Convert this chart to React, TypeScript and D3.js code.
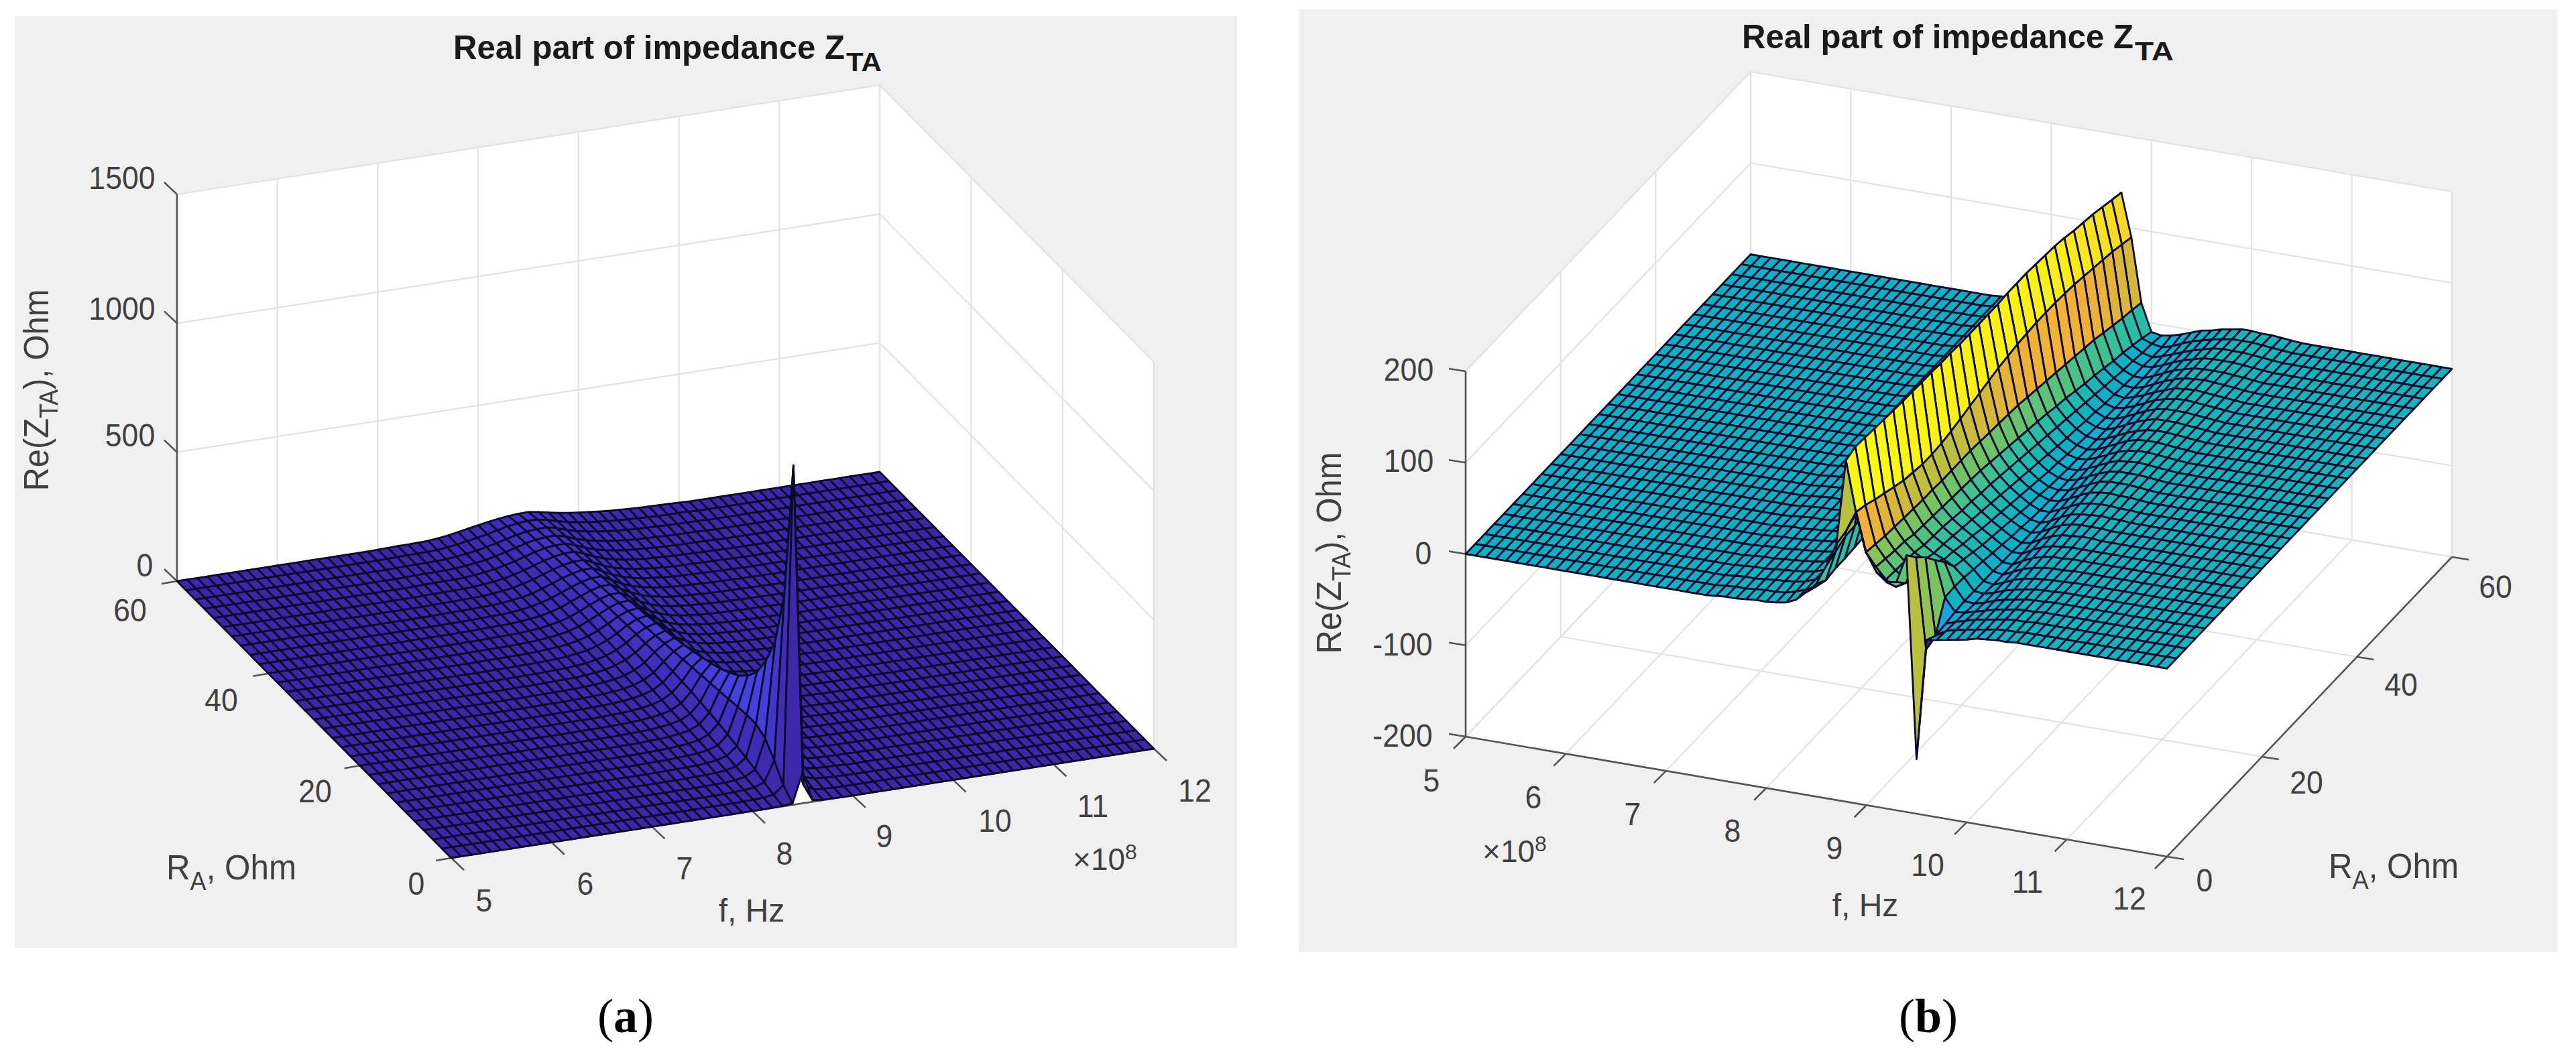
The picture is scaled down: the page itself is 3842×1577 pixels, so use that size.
import React from "react";
import * as d3 from "d3";

// ---------- axes / ticks ----------
const fTicks = [5, 6, 7, 8, 9, 10, 11, 12];
const raTicks = [0, 20, 40, 60];
const zTicksA = [0, 500, 1000, 1500];
const zTicksB = [-200, -100, 0, 100, 200];
const fGrid = d3.range(0, 71).map((i) => 5 + i / 10);
const raGrid = d3.range(0, 31).map((i) => i * 2);
const TITLE = "Real part of impedance Z";

// Panel (a): Re(Z) for RA = 0,2,...,60 (rows), f = 7.0 ... 10.0 e8 (columns); flat 0 outside
const zAStartF = 7.0;
const zA = [
  [0,0,0,0,0,0,0,0,0,0,0,0,1,2,5,120,6,2,1,0,0,0,0,0,0,0,0,0,0,0,0],
  [0,0,0,0,0,0,0,0,0,0,1,2,4,10,40,1275,30,6,2,1,0,0,0,0,0,0,0,0,0,0,0],
  [0,0,0,0,0,0,0,0,0,1,2,4,8,22,100,735,90,18,7,3,2,1,0,0,0,0,0,0,0,0,0],
  [0,0,0,0,0,0,0,0,1,2,3,6,13,36,150,520,130,30,11,5,3,2,1,0,0,0,0,0,0,0,0],
  [0,0,0,0,0,0,0,1,2,3,5,9,18,46,170,410,140,40,15,8,4,2,1,1,0,0,0,0,0,0,0],
  [0,0,0,0,0,0,1,2,3,4,7,12,23,55,170,330,140,48,20,10,6,3,2,1,1,0,0,0,0,0,0],
  [0,0,0,0,0,1,2,2,4,6,9,15,28,64,165,280,135,52,24,12,7,4,3,2,1,1,0,0,0,0,0],
  [0,0,0,0,0,1,2,3,5,7,11,18,34,72,160,245,130,56,27,14,8,5,3,2,1,1,0,0,0,0,0],
  [0,0,0,0,1,1,2,4,5,8,13,21,38,78,155,221,125,58,29,16,10,6,4,3,2,1,1,0,0,0,0],
  [0,0,0,1,1,2,3,4,6,9,15,24,43,83,150,200,120,60,31,18,11,7,5,3,2,1,1,0,0,0,0],
  [0,0,1,1,1,2,3,5,7,11,17,27,48,88,145,185,115,61,33,19,12,8,5,4,3,2,1,1,0,0,0],
  [0,0,1,1,1,2,4,5,8,12,19,31,53,91,140,172,110,62,34,20,13,9,6,4,3,2,1,1,0,0,0],
  [0,1,1,1,2,3,4,6,9,14,21,34,57,94,135,160,107,62,35,21,14,9,6,5,3,2,2,1,1,0,0],
  [0,1,1,1,2,3,4,7,10,15,23,37,60,96,130,150,104,62,36,22,15,10,7,5,4,3,2,1,1,0,0],
  [0,1,1,2,2,3,5,7,11,16,25,40,63,97,125,141,98,61,37,23,15,11,7,6,4,3,2,2,1,0,0],
  [1,1,1,2,3,4,5,8,12,18,28,43,66,96,120,133,92,60,38,24,16,11,8,6,4,3,2,2,1,1,0],
  [1,1,2,2,3,4,6,9,13,20,30,46,68,95,116,126,89,59,38,25,17,12,9,6,5,3,3,2,1,1,0],
  [1,1,2,2,3,4,6,9,14,21,32,48,69,94,112,119,86,58,38,25,17,12,9,7,5,4,3,2,1,1,0],
  [1,1,2,2,3,5,7,10,15,23,34,50,70,92,108,113,83,57,38,26,18,13,9,7,5,4,3,2,2,1,1],
  [1,1,2,2,3,5,7,11,16,24,36,52,71,90,104,107,80,56,38,26,18,13,10,7,5,4,3,2,2,1,1],
  [1,1,2,3,3,5,8,11,17,25,37,53,71,88,100,101,78,55,38,26,18,14,10,8,6,4,3,2,2,1,1],
  [1,1,2,3,4,5,8,12,17,26,38,54,70,85,96,97,75,54,38,27,19,14,10,8,6,4,3,3,2,1,1],
  [1,1,2,3,4,5,8,12,18,27,39,54,69,83,92,93,73,53,37,27,19,14,10,8,6,5,3,3,2,1,1],
  [1,2,2,3,4,5,8,13,18,27,39,54,68,80,88,89,71,52,37,27,19,15,11,8,6,5,4,3,2,1,1],
  [1,2,2,3,4,5,9,13,19,28,39,53,66,77,84,85,69,51,37,27,20,15,11,8,6,5,4,3,2,2,1],
  [1,2,2,3,4,5,9,13,19,28,39,52,64,74,80,81,67,50,37,27,20,15,11,9,7,5,4,3,2,2,1],
  [1,2,3,3,4,5,9,14,20,28,38,50,62,71,76,76,65,48,36,27,20,15,12,9,7,5,4,3,3,2,1],
  [1,2,3,3,4,5,9,14,20,28,38,49,60,68,72,72,62,47,36,27,21,16,12,9,7,6,4,3,3,2,1],
  [1,2,3,3,4,5,9,14,20,28,37,47,57,64,67,68,59,46,35,28,22,17,13,10,8,6,5,4,3,2,2],
  [1,2,3,3,4,5,9,14,21,28,36,45,54,60,63,63,55,44,35,28,23,18,14,11,9,7,5,4,3,3,2],
  [1,2,3,3,4,5,9,14,21,28,35,42,48,53,56,56,50,42,35,29,24,20,16,12,10,8,6,5,4,3,2],
];

// Panel (b): rows RA = 0,2,...,60; columns f = 7.5 ... 10.5 e8; 0 below, flankRightB above
const zBStartF = 7.5;
const flankRightB = [6,6,6,6,6,6,6,6,6,6,6,6,6,6,6];
const zB = [
  [1,2,2,3,4,4,5,7,12,22,33,55,80,97,118,76,57,48,50,81,-140,-8,-6,-4,-2,0,3,4,5,5,6],
  [1,2,2,3,4,4,5,8,12,17,26,60,161,106,64,50,38,32,38,68,-31,-14,-7,-4,-2,0,2,4,5,5,6],
  [1,2,2,3,4,5,6,8,12,18,28,65,165,103,62,48,37,31,35,57,-27,-12,-8,-5,-2,0,2,4,5,5,6],
  [1,2,2,3,4,5,6,8,12,18,28,66,164,98,60,46,36,30,32,43,4,-10,-9,-6,-3,0,2,4,5,5,6],
  [1,2,2,3,4,5,6,8,12,18,29,67,163,94,59,45,35,29,28,30,5,-9,-10,-7,-3,0,2,4,5,5,6],
  [1,2,2,3,4,5,6,8,12,19,30,67,162,90,58,42,32,25,20,14,4,-9,-10,-7,-3,0,2,4,5,5,6],
  [1,2,2,3,4,5,6,8,12,19,31,68,161,86,57,41,31,24,18,11,2,-9,-11,-7,-2,1,3,4,5,5,6],
  [1,2,2,3,4,5,6,8,13,19,31,68,160,84,56,40,30,22,15,8,0,-9,-11,-6,-1,2,4,5,5,6,6],
  [1,2,3,3,4,5,7,9,13,20,32,68,160,82,56,39,28,20,13,5,-2,-10,-11,-5,0,3,5,5,6,6,6],
  [1,2,3,3,4,5,7,9,13,20,32,68,159,82,55,38,26,18,10,3,-4,-10,-10,-4,1,4,5,6,6,6,6],
  [1,2,3,3,4,5,7,9,13,20,32,68,159,83,55,37,25,16,8,1,-6,-11,-9,-3,2,5,6,7,7,6,6],
  [1,2,3,3,4,5,7,9,14,21,34,70,158,85,55,36,23,14,6,-1,-7,-11,-8,-2,3,6,7,7,7,6,6],
  [1,2,3,3,4,5,7,10,14,21,35,71,158,88,55,35,22,12,4,-3,-9,-11,-7,-1,4,6,7,8,7,7,6],
  [1,2,3,4,4,6,7,10,14,22,36,72,157,91,54,33,20,10,2,-5,-10,-10,-5,0,5,7,8,8,7,7,6],
  [1,2,3,4,5,6,8,10,15,22,37,74,157,94,53,31,18,8,0,-6,-10,-9,-4,1,6,8,9,8,8,7,6],
  [1,2,3,4,5,6,8,10,15,23,38,75,157,97,52,29,16,6,-2,-8,-10,-8,-3,2,7,9,9,9,8,7,6],
  [1,2,3,4,5,6,8,10,15,23,39,76,157,100,51,27,14,4,-4,-9,-10,-7,-2,3,7,9,9,9,8,7,6],
  [1,2,3,4,5,6,8,11,15,24,40,77,157,102,50,25,12,2,-5,-10,-10,-6,-1,4,8,9,10,9,8,7,6],
  [1,2,3,4,5,6,8,11,16,24,41,78,158,104,48,23,10,0,-7,-10,-9,-5,0,5,8,10,10,9,8,7,6],
  [1,2,3,4,5,6,8,11,16,25,41,79,158,105,46,21,8,-2,-8,-11,-9,-4,1,6,9,10,10,9,8,7,6],
  [1,2,3,4,5,6,8,11,16,25,42,80,158,106,44,18,6,-3,-9,-11,-8,-3,2,6,9,10,10,9,8,7,6],
  [1,2,3,4,5,7,9,12,17,26,43,81,157,106,42,16,4,-5,-10,-11,-7,-2,3,7,10,10,10,9,8,7,6],
  [1,2,3,4,5,7,9,12,17,26,44,81,156,106,40,13,2,-6,-11,-10,-6,-1,4,8,10,10,10,9,8,7,6],
  [1,2,3,4,5,7,9,12,18,27,45,82,155,105,38,10,0,-8,-11,-9,-5,0,5,8,10,11,10,9,8,7,6],
  [1,2,3,4,6,7,9,12,18,27,46,82,153,104,36,8,-2,-9,-11,-8,-4,1,5,9,10,11,10,9,8,7,6],
  [1,2,3,4,6,7,9,13,18,28,46,83,150,102,34,5,-4,-10,-11,-8,-3,2,6,9,10,11,10,9,8,7,6],
  [1,2,3,4,6,8,10,13,19,28,47,83,148,100,31,2,-6,-11,-11,-7,-2,3,6,9,10,10,10,9,8,7,6],
  [1,2,3,4,6,8,10,13,19,29,48,84,146,98,28,0,-7,-11,-10,-6,-1,3,6,9,10,10,10,9,8,7,6],
  [1,2,3,4,6,8,10,14,19,29,48,84,143,96,25,-3,-9,-12,-9,-5,-1,3,6,9,10,10,10,9,8,7,6],
  [1,2,3,4,6,8,10,14,20,30,49,85,140,93,23,-6,-10,-12,-9,-4,0,3,6,8,10,10,10,9,8,7,6],
  [1,2,3,4,6,8,10,14,20,30,50,85,137,90,20,-10,-12,-10,-7,-3,1,3,6,8,10,10,9,9,8,7,6],
];

// ---------- colour ----------
const parula = d3
  .scaleLinear<string>()
  .domain([0, 0.1, 0.2, 0.3, 0.4, 0.46, 0.55, 0.65, 0.72, 0.8, 0.88, 1])
  .range(["#3E26A8","#4748F0","#3E66FA","#2594EE","#10AED6","#0DB0C4","#2EBFA0","#78C45E","#B4C23E","#F0B038","#F8C82E","#F9FB10"])
  .clamp(true);

// ---------- panel definitions ----------
type V = [number, number];
type Panel = {
  origin: V; fv: V; rv: V;
  zDomain: [number, number]; zPx: number;
  zTicks: number[];
  z: (r: number, c: number) => number;
  clim: [number, number];
  wallRA: number; wallF: number; floorZ: number; zAxisF: number; zAxisRA: number; raAxisF: number;
  zTick: V; fTick: V; raTick: V;
};

const readA = (r: number, c: number) => {
  const i = Math.round((fGrid[c] - zAStartF) * 10);
  return zA[r][i] ?? 0;
};
const readB = (r: number, c: number) => {
  const i = Math.round((fGrid[c] - zBStartF) * 10);
  if (i < 0) return 0;
  if (i > 30) return flankRightB[i - 31] ?? 5;
  return zB[r][i];
};

const panelA: Panel = {
  origin: [673, 1280], fv: [1048, -163], rv: [-409, -413],
  zDomain: [0, 1500], zPx: 577, zTicks: zTicksA, z: readA, clim: [0, 2200],
  wallRA: 60, wallF: 12, floorZ: 0, zAxisF: 5, zAxisRA: 60, raAxisF: 5,
  zTick: [-19, -18], fTick: [19, 18], raTick: [-23, 4],
};
const panelB: Panel = {
  origin: [2186, 1099], fv: [1046, 179], rv: [425, -447],
  zDomain: [-200, 200], zPx: 545, zTicks: zTicksB, z: readB, clim: [-140, 165],
  wallRA: 60, wallF: 5, floorZ: -200, zAxisF: 5, zAxisRA: 0, raAxisF: 12,
  zTick: [-25, -4], fTick: [-18, 18], raTick: [25, 4],
};

function makeProjector(p: Panel) {
  const fS = d3.scaleLinear().domain([5, 12]).range([0, 1]);
  const rS = d3.scaleLinear().domain([0, 60]).range([0, 1]);
  const zS = d3.scaleLinear().domain(p.zDomain).range([0, -p.zPx]);
  return (f: number, ra: number, z: number): V => [
    p.origin[0] + p.fv[0] * fS(f) + p.rv[0] * rS(ra),
    p.origin[1] + p.fv[1] * fS(f) + p.rv[1] * rS(ra) + zS(z),
  ];
}

const lineGen = d3.line<V>();
const closed = (pts: V[]) => (lineGen(pts) as string) + "Z";

const FONT = "'Liberation Sans', Arial, sans-serif";
const TEXT = "#404040";

function Lbl({ x, y, children, size = 48, sx = 0.93, fill = TEXT, rotate = 0 }: any) {
  return (
    <text
      transform={`translate(${x},${y}) rotate(${rotate}) scale(${sx},1)`}
      textAnchor="middle"
      dominantBaseline="central"
      fontFamily={FONT}
      fontSize={size}
      fill={fill}
    >
      {children}
    </text>
  );
}

function Surface3D({ p }: { p: Panel }) {
  const P = makeProjector(p);
  const [zMin, zMax] = p.zDomain;
  const fz = p.floorZ;
  const color = d3.scaleLinear().domain(p.clim).range([0, 1]);

  const walls: V[][] = [
    [P(5, p.wallRA, zMin), P(12, p.wallRA, zMin), P(12, p.wallRA, zMax), P(5, p.wallRA, zMax)],
    [P(p.wallF, 0, zMin), P(p.wallF, 60, zMin), P(p.wallF, 60, zMax), P(p.wallF, 0, zMax)],
    [P(5, 0, fz), P(12, 0, fz), P(12, 60, fz), P(5, 60, fz)],
  ];

  const grid: V[][] = [];
  fTicks.forEach((f) => {
    grid.push([P(f, 0, fz), P(f, 60, fz)]);
    grid.push([P(f, p.wallRA, zMin), P(f, p.wallRA, zMax)]);
  });
  raTicks.forEach((r) => {
    grid.push([P(5, r, fz), P(12, r, fz)]);
    grid.push([P(p.wallF, r, zMin), P(p.wallF, r, zMax)]);
  });
  p.zTicks.forEach((z) => {
    grid.push([P(5, p.wallRA, z), P(12, p.wallRA, z)]);
    grid.push([P(p.wallF, 0, z), P(p.wallF, 60, z)]);
  });

  const cells: { d: string; fill: string; depth: number }[] = [];
  for (let r = 0; r < raGrid.length - 1; r++) {
    for (let c = 0; c < fGrid.length - 1; c++) {
      const corners: V[] = [
        P(fGrid[c], raGrid[r], p.z(r, c)),
        P(fGrid[c + 1], raGrid[r], p.z(r, c + 1)),
        P(fGrid[c + 1], raGrid[r + 1], p.z(r + 1, c + 1)),
        P(fGrid[c], raGrid[r + 1], p.z(r + 1, c)),
      ];
      const base = P(fGrid[c] + 0.05, raGrid[r] + 1, 0);
      cells.push({ d: closed(corners), fill: parula(color(p.z(r, c))), depth: base[1] });
    }
  }
  cells.sort((a, b) => a.depth - b.depth);

  const axisLines: V[][] = [
    [P(p.zAxisF, p.zAxisRA, zMin), P(p.zAxisF, p.zAxisRA, zMax)],
    [P(5, 0, fz), P(12, 0, fz)],
    [P(p.raAxisF, 0, fz), P(p.raAxisF, 60, fz)],
  ];
  const add = (a: V, b: V): V => [a[0] + b[0], a[1] + b[1]];
  p.zTicks.forEach((z) => {
    const a = P(p.zAxisF, p.zAxisRA, z);
    axisLines.push([a, add(a, p.zTick)]);
  });
  fTicks.forEach((f) => {
    const a = P(f, 0, fz);
    axisLines.push([a, add(a, p.fTick)]);
  });
  raTicks.forEach((r) => {
    const a = P(p.raAxisF, r, fz);
    axisLines.push([a, add(a, p.raTick)]);
  });

  return (
    <g>
      {walls.map((w, i) => (
        <path key={i} d={closed(w)} fill="#ffffff" stroke="none" />
      ))}
      {grid.map((g, i) => (
        <path key={i} d={lineGen(g) as string} fill="none" stroke="#e2e2e2" strokeWidth={2.2} />
      ))}
      {axisLines.map((g, i) => (
        <path key={i} d={lineGen(g) as string} fill="none" stroke="#555555" strokeWidth={2.6} />
      ))}
      {cells.map((c, i) => (
        <path key={i} d={c.d} fill={c.fill} stroke="#0a0a2a" strokeWidth={2.8} strokeLinejoin="round" />
      ))}
    </g>
  );
}

function Title({ x0, x1, x2, y }: { x0: number; x1: number; x2: number; y: number }) {
  return (
    <g fontFamily={FONT} fontWeight="bold" fill="#1a1a1a">
      <text x={x0} y={y} fontSize={50} textLength={x1 - x0} lengthAdjust="spacingAndGlyphs">{TITLE}</text>
      <text x={x1 + 2} y={y + 18} fontSize={38} textLength={x2 - x1 - 2} lengthAdjust="spacingAndGlyphs">TA</text>
    </g>
  );
}

function ZLabel({ x, y }: { x: number; y: number }) {
  return (
    <text
      transform={`translate(${x},${y}) rotate(-90) scale(0.94,1)`}
      textAnchor="middle"
      fontFamily={FONT}
      fontSize={52}
      fill={TEXT}
    >
      Re(Z<tspan fontSize={38} dy={14}>TA</tspan><tspan dy={-14}>), Ohm</tspan>
    </text>
  );
}

function RLabel({ x, y }: { x: number; y: number }) {
  return (
    <text
      transform={`translate(${x},${y}) scale(0.95,1)`}
      textAnchor="middle"
      fontFamily={FONT}
      fontSize={52}
      fill={TEXT}
    >
      R<tspan fontSize={38} dy={16}>A</tspan><tspan dy={-16}>, Ohm</tspan>
    </text>
  );
}

function Exp({ x, y }: { x: number; y: number }) {
  return (
    <text x={x} y={y} textAnchor="middle" fontFamily={FONT} fontSize={46} fill={TEXT}>
      ×10<tspan fontSize={32} dy={-16}>8</tspan>
    </text>
  );
}

function Cap({ x, y, t }: { x: number; y: number; t: string }) {
  return (
    <text x={x} y={y} textAnchor="middle" fontFamily="'Liberation Serif', serif" fontSize={72} fill="#000">
      (<tspan fontWeight="bold">{t}</tspan>)
    </text>
  );
}

const labelsA = {
  z: [[182, 265], [182, 460], [194, 649], [216, 843]],
  zText: ["1500", "1000", "500", "0"],
  ra: [[621, 1318], [470, 1180], [330, 1044], [194, 910]],
  f: [[722, 1343], [873, 1318], [1021, 1295], [1170, 1273], [1319, 1247], [1484, 1224], [1630, 1202], [1782, 1179]],
};
const labelsB = {
  z: [[2101, 551], [2101, 687], [2123, 825], [2092, 961], [2092, 1097]],
  zText: ["200", "100", "0", "-100", "-200"],
  ra: [[3288, 1313], [3440, 1167], [3581, 1021], [3722, 875]],
  f: [[2135, 1164], [2287, 1189], [2435, 1214], [2584, 1239], [2736, 1265], [2875, 1290], [3024, 1315], [3176, 1340]],
};

function Labels({ l }: { l: typeof labelsA }) {
  return (
    <g>
      {l.z.map((q, i) => <Lbl key={"z" + i} x={q[0]} y={q[1]}>{l.zText[i]}</Lbl>)}
      {l.ra.map((q, i) => <Lbl key={"r" + i} x={q[0]} y={q[1]}>{raTicks[i]}</Lbl>)}
      {l.f.map((q, i) => <Lbl key={"f" + i} x={q[0]} y={q[1]}>{fTicks[i]}</Lbl>)}
    </g>
  );
}

export default function App() {
  return (
    <svg
      width={3842}
      height={1577}
      viewBox="0 0 3842 1577"
      style={{ position: "absolute", left: 0, top: 0, display: "block", background: "#fff" }}
    >
      <rect x={22} y={24} width={1823} height={1390} fill="#f0f0f0" />
      <rect x={1937} y={14} width={1877} height={1406} fill="#f0f0f0" />

      <Surface3D p={panelA} />
      <Surface3D p={panelB} />

      <Title x0={676} x1={1260} x2={1315} y={88} />
      <Title x0={2598} x1={3182} x2={3242} y={72} />

      <Labels l={labelsA} />
      <Labels l={labelsB as any} />

      <ZLabel x={72} y={582} />
      <ZLabel x={2000} y={825} />
      <RLabel x={345} y={1312} />
      <RLabel x={3570} y={1310} />
      <Lbl x={1121} y={1358} sx={1}>f, Hz</Lbl>
      <Lbl x={2782} y={1350} sx={1}>f, Hz</Lbl>
      <Exp x={1648} y={1298} />
      <Exp x={2259} y={1286} />

      <Cap x={933} y={1540} t="a" />
      <Cap x={2876} y={1540} t="b" />
    </svg>
  );
}
